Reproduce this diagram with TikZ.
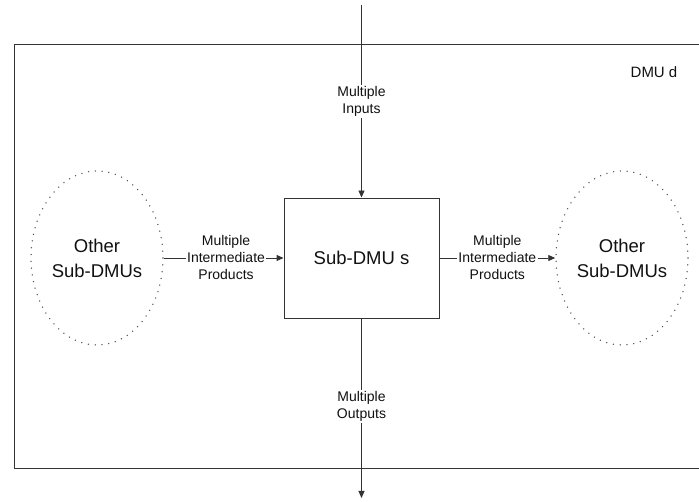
\documentclass[tikz,border=0pt]{standalone}
\usepackage{fontspec}
\setmainfont{Liberation Sans}
\usetikzlibrary{shapes.geometric,arrows.meta}
\definecolor{ln}{HTML}{333333}
\definecolor{tx}{HTML}{111111}
\tikzset{
  x=1pt,y=1pt,
  arr/.style={draw=ln,line width=0.9pt,-{Triangle[length=7pt,width=6pt]}},
  plain/.style={draw=ln,line width=0.9pt},
  lab/.style={fill=white,inner sep=1.5pt,align=center,text=tx,font=\fontsize{14}{17}\selectfont},
  big/.style={align=center,text=tx,font=\fontsize{18.5}{25}\selectfont},
  other/.style={ellipse,draw=ln!85,line width=1.5pt,dash pattern=on 0pt off 6.8pt,line cap=round,minimum width=132pt,minimum height=174pt,inner sep=0pt,big},
  subbox/.style={draw=ln,line width=0.9pt,minimum width=155pt,minimum height=120pt,inner sep=0pt,big}
}
\begin{document}
\begin{tikzpicture}
\useasboundingbox (0,0) rectangle (699,502);
\begin{scope}
\clip (0,0) rectangle (699,502);
\draw[plain] (14,34) rectangle (712,458);
\end{scope}
\node[text=tx,font=\fontsize{15}{18}\selectfont] (dmu) at (654,430) {DMU d};
\node[subbox] (sub) at (361.5,244) {Sub-DMU s};
\node[other] (L) at (97,244) {Other\\Sub-DMUs};
\node[other] (R) at (622,244) {Other\\Sub-DMUs};
\coordinate (top) at (361.5,497);
\coordinate (bot) at (361.5,4);
\draw[arr] (top) -- node[lab]{Multiple\\Inputs} (sub.north);
\draw[arr] (sub.south) -- node[lab,pos=0.49]{Multiple\\Outputs} (bot);
\draw[arr] (L.east) -- node[lab,pos=0.52]{Multiple\\Intermediate\\Products} (sub.west);
\draw[arr] (sub.east) -- node[lab]{Multiple\\Intermediate\\Products} (R.west);
\end{tikzpicture}
\end{document}
